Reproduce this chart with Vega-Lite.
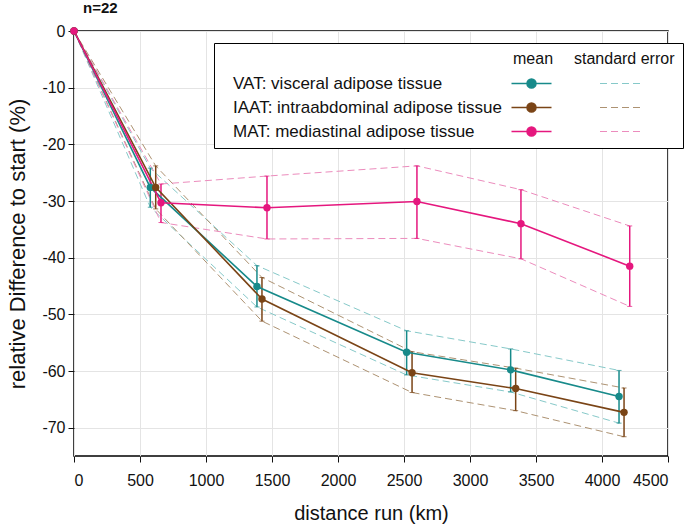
{
  "$schema": "https://vega.github.io/schema/vega-lite/v6.json",
  "width": 594,
  "height": 425,
  "autosize": "none",
  "padding": {"left": 74, "top": 31, "right": 17, "bottom": 72},
  "title": {"text": "n=22", "anchor": "start", "frame": "group", "dx": 9, "offset": 7, "fontSize": 15, "fontWeight": "bold", "color": "#111"},
  "config": {
    "font": "Liberation Sans",
    "view": {"stroke": "black", "strokeWidth": 1.5},
    "axis": {
      "grid": true, "gridColor": "#e4e4e4", "gridWidth": 1, "domain": false,
      "tickColor": "#111", "tickSize": 6, "tickWidth": 1,
      "labelFontSize": 16, "labelColor": "#111", "labelFont": "Liberation Sans",
      "titleFontWeight": "normal", "titleColor": "#111", "titleFont": "Liberation Sans",
      "labelExpr": "'' + datum.value"
    },
    "axisY": {"titlePadding": 12, "labelPadding": 3, "titleFontSize": 22},
    "axisX": {"titlePadding": 15, "labelPadding": 10, "titleFontSize": 20}
  },
  "data": {
    "values": [
      {"tissue": "VAT", "km": 0, "mean": 0, "lo": 0, "hi": 0},
      {"tissue": "VAT", "km": 578, "mean": -27.6, "lo": -31.1, "hi": -24.2},
      {"tissue": "VAT", "km": 1386, "mean": -45.1, "lo": -48.7, "hi": -41.4},
      {"tissue": "VAT", "km": 2520, "mean": -56.7, "lo": -60.7, "hi": -52.9},
      {"tissue": "VAT", "km": 3308, "mean": -59.8, "lo": -63.7, "hi": -56.1},
      {"tissue": "VAT", "km": 4129, "mean": -64.5, "lo": -69.2, "hi": -59.9},
      {"tissue": "IAAT", "km": 0, "mean": 0, "lo": 0, "hi": 0},
      {"tissue": "IAAT", "km": 619, "mean": -27.6, "lo": -31.4, "hi": -23.8},
      {"tissue": "IAAT", "km": 1424, "mean": -47.3, "lo": -51.2, "hi": -43.5},
      {"tissue": "IAAT", "km": 2561, "mean": -60.3, "lo": -63.8, "hi": -56.6},
      {"tissue": "IAAT", "km": 3346, "mean": -63.1, "lo": -67.0, "hi": -59.5},
      {"tissue": "IAAT", "km": 4167, "mean": -67.3, "lo": -71.6, "hi": -63.0},
      {"tissue": "MAT", "km": 0, "mean": 0, "lo": 0, "hi": 0},
      {"tissue": "MAT", "km": 659, "mean": -30.3, "lo": -33.8, "hi": -27.0},
      {"tissue": "MAT", "km": 1462, "mean": -31.2, "lo": -36.7, "hi": -25.6},
      {"tissue": "MAT", "km": 2598, "mean": -30.1, "lo": -36.6, "hi": -23.8},
      {"tissue": "MAT", "km": 3386, "mean": -34.0, "lo": -40.2, "hi": -28.0},
      {"tissue": "MAT", "km": 4210, "mean": -41.5, "lo": -48.6, "hi": -34.4}
    ]
  },
  "encoding": {
    "x": {
      "field": "km", "type": "quantitative",
      "scale": {"domain": [0, 4500], "nice": false},
      "axis": {"values": [0, 500, 1000, 1500, 2000, 2500, 3000, 3500, 4000, 4500], "title": "distance run (km)"}
    }
  },
  "layer": [
    {
      "mark": {"type": "line", "strokeDash": [7, 4], "strokeWidth": 1},
      "encoding": {
        "y": {"field": "hi", "type": "quantitative", "scale": {"domain": [-75, 0], "nice": false},
              "axis": {"values": [-70, -60, -50, -40, -30, -20, -10, 0], "title": "relative Difference to start (%)"}},
        "stroke": {
          "field": "tissue", "type": "nominal",
          "scale": {"domain": ["VAT", "IAAT", "MAT"], "range": ["#86c9c9", "#ad9272", "#ec8cbd"]},
          "legend": {
            "orient": "none", "legendX": 140, "legendY": 12,
            "title": "standard error", "titleFontSize": 16, "titleFontWeight": "normal", "titleColor": "#111", "titlePadding": 8,
            "labelFontSize": 17, "labelColor": "#111", "labelLimit": 400,
            "labelExpr": "datum.label == 'VAT' ? 'VAT: visceral adipose tissue' : datum.label == 'IAAT' ? 'IAAT: intraabdominal adipose tissue' : 'MAT: mediastinal adipose tissue'",
            "symbolType": "M73.9,0H82.1", "symbolSize": 100, "symbolStrokeWidth": 1, "symbolDash": [7, 4],
            "labelOffset": -6, "rowPadding": 6,
            "padding": 8, "strokeColor": "black", "fillColor": "white",
            "encode": {"title": {"update": {"dx": {"value": 352}}}}
          }
        }
      }
    },
    {
      "mark": {"type": "line", "strokeDash": [7, 4], "strokeWidth": 1},
      "encoding": {
        "y": {"field": "lo", "type": "quantitative",
              "axis": {"values": [-70, -60, -50, -40, -30, -20, -10, 0], "title": "relative Difference to start (%)"}},
        "stroke": {"field": "tissue", "type": "nominal"}
      }
    },
    {
      "transform": [{"filter": "datum.km > 0"}],
      "mark": {"type": "rule", "strokeWidth": 1.5},
      "encoding": {
        "y": {"field": "lo", "type": "quantitative",
              "axis": {"values": [-70, -60, -50, -40, -30, -20, -10, 0], "title": "relative Difference to start (%)"}},
        "y2": {"field": "hi"},
        "color": {"field": "tissue", "type": "nominal", "sort": null}
      }
    },
    {
      "transform": [{"filter": "datum.km > 0"}],
      "mark": {"type": "tick", "orient": "horizontal", "size": 5, "thickness": 1},
      "encoding": {
        "y": {"field": "lo", "type": "quantitative",
              "axis": {"values": [-70, -60, -50, -40, -30, -20, -10, 0], "title": "relative Difference to start (%)"}},
        "color": {"field": "tissue", "type": "nominal", "sort": null}
      }
    },
    {
      "transform": [{"filter": "datum.km > 0"}],
      "mark": {"type": "tick", "orient": "horizontal", "size": 5, "thickness": 1},
      "encoding": {
        "y": {"field": "hi", "type": "quantitative",
              "axis": {"values": [-70, -60, -50, -40, -30, -20, -10, 0], "title": "relative Difference to start (%)"}},
        "color": {"field": "tissue", "type": "nominal", "sort": null}
      }
    },
    {
      "mark": {"type": "line", "strokeWidth": 1.6},
      "encoding": {
        "y": {"field": "mean", "type": "quantitative",
              "axis": {"values": [-70, -60, -50, -40, -30, -20, -10, 0], "title": "relative Difference to start (%)"}},
        "color": {
          "field": "tissue", "type": "nominal", "sort": null,
          "scale": {"range": ["#178a8a", "#7a4416", "#e5177e"]},
          "legend": {
            "orient": "none", "legendX": 140, "legendY": 12, "zindex": 1,
            "title": "mean", "titleFontSize": 16, "titleFontWeight": "normal", "titleColor": "#111", "titlePadding": 8,
            "labelFontSize": 17, "labelOpacity": 0, "labelLimit": 400,
            "labelExpr": "datum.label == 'VAT' ? 'VAT: visceral adipose tissue' : datum.label == 'IAAT' ? 'IAAT: intraabdominal adipose tissue' : 'MAT: mediastinal adipose tissue'",
            "symbolType": "M56.2,0H64.2M61.1,0A0.9,0.9,0,1,1,59.3,0A0.9,0.9,0,1,1,61.1,0", "symbolSize": 100, "symbolStrokeWidth": 1.5,
            "labelOffset": -6, "rowPadding": 6, "padding": 8,
            "encode": {
              "title": {"update": {"dx": {"value": 291}}},
              "symbols": {"update": {"fill": {"scale": "color", "field": "value"}, "stroke": {"scale": "color", "field": "value"}, "opacity": {"value": 1}}}
            }
          }
        }
      }
    },
    {
      "mark": {"type": "point", "filled": true, "size": 55, "opacity": 1},
      "encoding": {
        "y": {"field": "mean", "type": "quantitative",
              "axis": {"values": [-70, -60, -50, -40, -30, -20, -10, 0], "title": "relative Difference to start (%)"}},
        "color": {"field": "tissue", "type": "nominal", "sort": null}
      }
    }
  ]
}
